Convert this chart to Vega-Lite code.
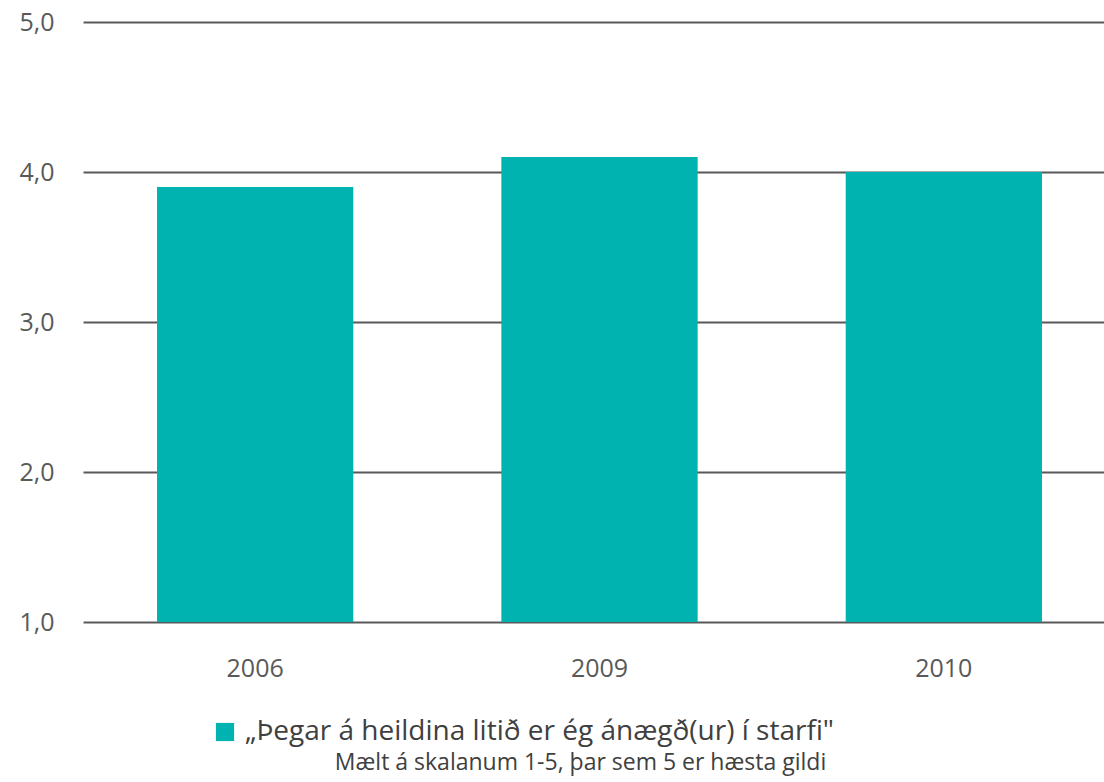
{
  "$schema": "https://vega.github.io/schema/vega-lite/v6.json",
  "autosize": "none",
  "width": 1021,
  "height": 600,
  "padding": {"left": 83, "top": 22, "right": 0, "bottom": 160},
  "background": "white",
  "config": {
    "font": "Open Sans",
    "view": {"stroke": null}
  },
  "data": {
    "values": [
      {"ar": "2006", "gildi": 3.9, "flokkur": "„Þegar á heildina litið er ég ánægð(ur) í starfi\""},
      {"ar": "2009", "gildi": 4.1, "flokkur": "„Þegar á heildina litið er ég ánægð(ur) í starfi\""},
      {"ar": "2010", "gildi": 4.0, "flokkur": "„Þegar á heildina litið er ég ánægð(ur) í starfi\""}
    ]
  },
  "title": {
    "text": "Mælt á skalanum 1-5, þar sem 5 er hæsta gildi",
    "orient": "bottom",
    "anchor": "middle",
    "fontSize": 23,
    "fontWeight": "normal",
    "color": "#404040",
    "offset": 6,
    "dx": -13
  },
  "mark": {"type": "bar", "color": "#00B2B0"},
  "encoding": {
    "x": {
      "field": "ar",
      "type": "nominal",
      "sort": null,
      "scale": {"range": [0, 1033], "paddingInner": 0.43, "paddingOuter": 0.215},
      "axis": {
        "title": null,
        "labelAngle": 0,
        "domain": false,
        "ticks": false,
        "labelFontSize": 25,
        "labelColor": "#595959",
        "labelPadding": 34
      }
    },
    "y": {
      "field": "gildi",
      "type": "quantitative",
      "scale": {"domain": [1, 5], "zero": false, "nice": false},
      "axis": {
        "title": null,
        "values": [1, 2, 3, 4, 5],
        "labelExpr": "replace(format(datum.value, '.1f'), '.', ',')",
        "domain": false,
        "ticks": false,
        "grid": true,
        "gridColor": "#595959",
        "gridWidth": 2,
        "gridOpacity": 1,
        "labelFontSize": 25,
        "labelColor": "#595959",
        "labelPadding": 29
      }
    },
    "y2": {"datum": 1},
    "color": {
      "field": "flokkur",
      "type": "nominal",
      "scale": {"range": ["#00B2B0"]},
      "legend": {
        "title": null,
        "orient": "none",
        "legendX": 128,
        "legendY": 696,
        "symbolType": "square",
        "symbolSize": 330,
        "symbolStrokeWidth": 0,
        "labelFontSize": 28,
        "labelColor": "#404040",
        "labelOffset": 6,
        "labelLimit": 0
      }
    }
  }
}
